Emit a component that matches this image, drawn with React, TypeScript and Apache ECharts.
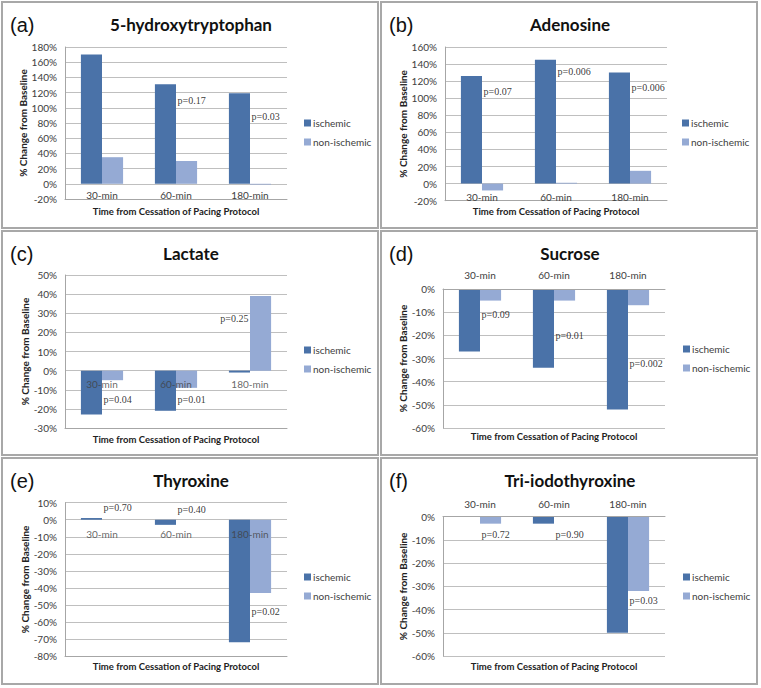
import React, { useEffect, useRef } from "react";
import * as echarts from "echarts";

// ---------- data ----------
const categories = ["30-min", "60-min", "180-min"];
const seriesNames = ["ischemic", "non-ischemic"];

const hydroxyIsch = [170, 131, 119];
const hydroxyNon = [35, 30, -1];
const hydroxyPText = ["", "p=0.17", "p=0.03"];
const hydroxyPY = [0, 110, 89];

const adenosineIsch = [126, 145, 130];
const adenosineNon = [-8, 1, 15];
const adenosinePText = ["p=0.07", "p=0.006", "p=0.006"];
const adenosinePY = [108, 131, 112];

const lactateIsch = [-23, -21, -1];
const lactateNon = [-5, -9, 39];
const lactatePText = ["p=0.04", "p=0.01", "p=0.25"];
const lactatePY = [-15, -15, 27];

const sucroseIsch = [-27, -34, -52];
const sucroseNon = [-5, -5, -7];
const sucrosePText = ["p=0.09", "p=0.01", "p=0.002"];
const sucrosePY = [-11, -20, -32];

const thyroxineIsch = [1, -3, -72];
const thyroxineNon = [0, 0, -43];
const thyroxinePText = ["p=0.70", "p=0.40", "p=0.02"];
const thyroxinePY = [7, 6, -54];

const t3Isch = [0, -3, -50];
const t3Non = [-3, 0, -32];
const t3PText = ["p=0.72", "p=0.90", "p=0.03"];
const t3PY = [-7.5, -7.5, -36];

const panelTags = ["(a)", "(b)", "(c)", "(d)", "(e)", "(f)"];
const panelTitles = ["5-hydroxytryptophan", "Adenosine", "Lactate", "Sucrose", "Thyroxine", "Tri-iodothyroxine"];
const axisRanges = [
  { min: -20, max: 180, interval: 20 },
  { min: -20, max: 160, interval: 20 },
  { min: -30, max: 50, interval: 10 },
  { min: -60, max: 0, interval: 10 },
  { min: -80, max: 10, interval: 10 },
  { min: -60, max: 0, interval: 10 },
];
const panelData = [
  { isch: hydroxyIsch, non: hydroxyNon, pText: hydroxyPText, pY: hydroxyPY },
  { isch: adenosineIsch, non: adenosineNon, pText: adenosinePText, pY: adenosinePY },
  { isch: lactateIsch, non: lactateNon, pText: lactatePText, pY: lactatePY },
  { isch: sucroseIsch, non: sucroseNon, pText: sucrosePText, pY: sucrosePY },
  { isch: thyroxineIsch, non: thyroxineNon, pText: thyroxinePText, pY: thyroxinePY },
  { isch: t3Isch, non: t3Non, pText: t3PText, pY: t3PY },
];
const xTitle = "Time from Cessation of Pacing Protocol";
const yTitle = "% Change from Baseline";

// ---------- layout ----------
// labelMode: "axis" = normal axis labels; "zero" = labels hung under the 0% line
const layout = [
  { box: [2, 2, 376, 226], grid: [65, 47, 222, 152], labelMode: "axis", pos: "bottom", margin: -9, legend: [304, 117], xTitleY: 211, pAlign: ["right", "right", "right"] },
  { box: [381, 2, 376, 226], grid: [445, 47, 222, 153.7], labelMode: "axis", pos: "bottom", margin: -9, legend: [682, 117], xTitleY: 211, pAlign: ["right", "right", "right"] },
  { box: [2, 231, 376, 224], grid: [65, 275, 222, 153], labelMode: "zero", pos: "bottom", margin: 7.5, legend: [304, 344], xTitleY: 439, pAlign: ["right", "right", "left"] },
  { box: [381, 231, 376, 224], grid: [443, 289, 222, 139], labelMode: "axis", pos: "top", margin: 9, legend: [683, 343], xTitleY: 436, pAlign: ["right", "right", "right"] },
  { box: [2, 458, 376, 226], grid: [65, 502.7, 222, 153.3], labelMode: "zero", pos: "bottom", margin: 8.5, legend: [304, 571], xTitleY: 666, pAlign: ["right", "right", "right"] },
  { box: [381, 458, 376, 226], grid: [443, 516.7, 222, 139.3], labelMode: "axis", pos: "top", margin: 8, legend: [683, 571], xTitleY: 666, pAlign: ["right", "right", "right"] },
];

const ISCH_COLOR = "#4a72a8";
const NON_COLOR = "#95aad4";
const SANS = "Lato, 'Open Sans', sans-serif";

export default function App() {
  const ref = useRef<HTMLDivElement>(null);
  useEffect(() => {
    if (!ref.current) return;
    const chart = echarts.init(ref.current, undefined, { renderer: "svg" });

    const grids: any[] = [];
    const xAxes: any[] = [];
    const yAxes: any[] = [];
    const series: any[] = [];
    const legends: any[] = [];
    const graphics: any[] = [];

    layout.forEach((L, i) => {
      const [gl, gt, gw, gh] = L.grid;
      const onZeroLabels = L.labelMode === "zero";
      grids.push({ left: gl, top: gt, width: gw, height: gh, containLabel: false });
      xAxes.push({
        type: "category",
        gridIndex: i,
        data: categories,
        position: L.pos,
        z: 5,
        axisLine: { show: true, onZero: false, lineStyle: { color: "#a6a6a6", width: 1 } },
        axisTick: { show: false },
        axisLabel: { show: !onZeroLabels, margin: L.margin, color: "#404040", fontFamily: SANS, fontSize: 10 },
      });
      yAxes.push({
        type: "value",
        gridIndex: i,
        min: axisRanges[i].min,
        max: axisRanges[i].max,
        interval: axisRanges[i].interval,
        name: yTitle,
        nameLocation: "middle",
        nameGap: 33,
        nameTextStyle: { fontFamily: SANS, fontSize: 10, fontWeight: "bold", color: "#222" },
        axisLine: { show: true, lineStyle: { color: "#a6a6a6" } },
        axisTick: { show: false },
        axisLabel: { formatter: "{value}%", margin: 8, color: "#404040", fontFamily: SANS, fontSize: 10 },
        splitLine: { show: true, lineStyle: { color: "#bfbfbf", width: 1 } },
      });
      const d = panelData[i];
      series.push({
        type: "bar",
        name: seriesNames[0],
        xAxisIndex: i,
        yAxisIndex: i,
        data: d.isch,
        barGap: "0%",
        barCategoryGap: "43%",
        itemStyle: { color: ISCH_COLOR },
      });
      series.push({
        type: "bar",
        name: seriesNames[1],
        xAxisIndex: i,
        yAxisIndex: i,
        data: d.non,
        barGap: "0%",
        barCategoryGap: "43%",
        itemStyle: { color: NON_COLOR },
      });
      series.push({
        type: "scatter",
        name: "p-values",
        xAxisIndex: i,
        yAxisIndex: i,
        symbolSize: 1,
        silent: true,
        z: 10,
        itemStyle: { color: "rgba(0,0,0,0)" },
        data: d.pText
          .map((t, idx) =>
            t
              ? {
                  value: [idx, d.pY[idx]],
                  label: {
                    show: true,
                    formatter: t,
                    position: L.pAlign[idx],
                    distance: 1,
                    fontFamily: "'Liberation Serif', 'DejaVu Serif', serif",
                    fontSize: 10,
                    color: "#000",
                  },
                }
              : null
          )
          .filter((v) => v !== null),
      });
      if (onZeroLabels) {
        // category labels hung just under the 0% line, drawn over the bars
        series.push({
          type: "scatter",
          name: "category-labels",
          xAxisIndex: i,
          yAxisIndex: i,
          symbolSize: 1,
          silent: true,
          z: 9,
          itemStyle: { color: "rgba(0,0,0,0)" },
          data: categories.map((c, idx) => ({
            value: [idx, 0],
            label: {
              show: true,
              formatter: c,
              position: "bottom",
              distance: L.margin,
              fontFamily: SANS,
              fontSize: 10,
              color: "#404040",
            },
          })),
        });
      }
      legends.push({
        data: seriesNames,
        orient: "vertical",
        left: L.legend[0],
        top: L.legend[1],
        padding: 0,
        icon: "rect",
        itemWidth: 7,
        itemHeight: 7,
        itemGap: 7,
        selectedMode: false,
        textStyle: { fontFamily: SANS, fontSize: 10, color: "#404040", lineHeight: 12, padding: [0, 0, 0, -3] },
      });
      const [bx, by, bw, bh] = L.box;
      graphics.push({
        type: "rect",
        shape: { x: bx, y: by, width: bw, height: bh },
        style: { fill: "none", stroke: "#a8a8a8", lineWidth: 2 },
        silent: true,
      });
      graphics.push({
        type: "text",
        x: bx + 8,
        y: by + 23,
        style: { text: panelTags[i], font: "20px 'Liberation Sans', Arial, sans-serif", fill: "#111", textVerticalAlign: "middle" },
      });
      graphics.push({
        type: "text",
        x: bx + bw / 2 + 1,
        y: by + 22,
        style: { text: panelTitles[i], font: `bold 17px ${SANS}`, fill: "#111", textAlign: "center", textVerticalAlign: "middle" },
      });
      graphics.push({
        type: "text",
        x: gl + gw / 2,
        y: L.xTitleY,
        style: { text: xTitle, font: `bold 9.5px ${SANS}`, fill: "#222", textAlign: "center", textVerticalAlign: "middle" },
      });
    });

    chart.setOption({
      animation: false,
      backgroundColor: "#ffffff",
      grid: grids,
      xAxis: xAxes,
      yAxis: yAxes,
      series,
      legend: legends,
      graphic: graphics,
    });
    return () => chart.dispose();
  }, []);

  return <div ref={ref} style={{ position: "absolute", left: 0, top: 0, width: 761, height: 688 }} />;
}
